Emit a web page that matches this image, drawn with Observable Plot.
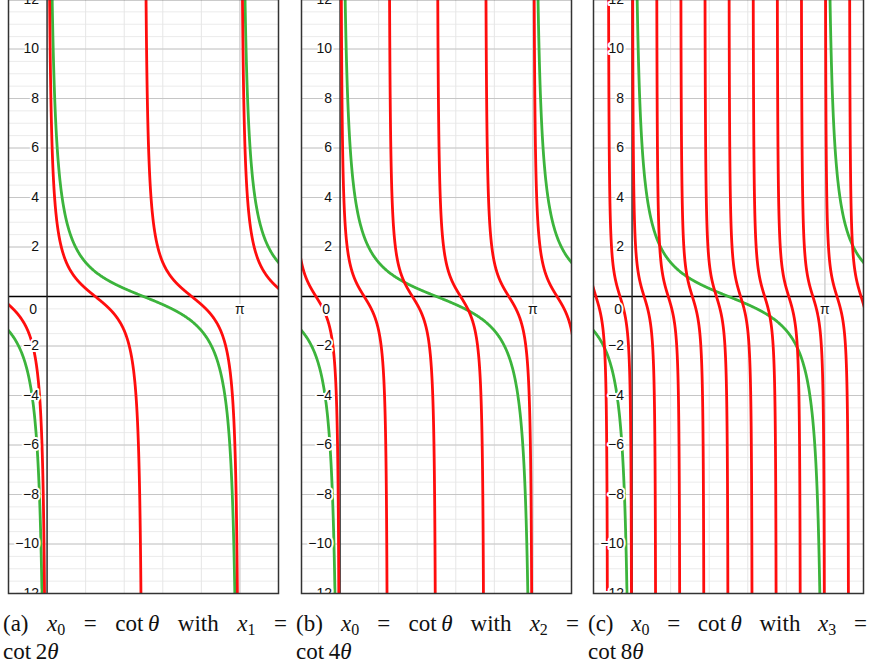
<!DOCTYPE html>
<html>
<head>
<meta charset="utf-8">
<script src="https://cdn.jsdelivr.net/npm/d3@7"></script>
<script src="https://cdn.jsdelivr.net/npm/@observablehq/plot@0.6"></script>
<style>
  html, body { margin: 0; padding: 0; background: #fff; }
  #page { position: relative; width: 871px; height: 668px; overflow: hidden; }
  .panel { position: absolute; top: -3px; }
  .caption {
    position: absolute; top: 610px;
    font-family: "Liberation Serif", "DejaVu Serif", serif;
    font-size: 23px; line-height: 28px; color: #111;
  }
  .caption .l1 { white-space: nowrap; display: flex; justify-content: space-between; }
  .caption i { font-style: italic; }
  .caption sub { font-size: 16px; vertical-align: -4px; line-height: 0; }
</style>
</head>
<body>
<div id="page"></div>
<script>
// Panel definitions: each compares x0 = cot θ with cot(nθ)
const panelTags = ["a", "b", "c"];
const multipliers = [2, 4, 8];
const seriesIndex = [1, 2, 3];
const panelLeft = [6, 299, 591];
const captionLeft = [3, 296, 588];
const captionWidth = [284, 283, 279];

// Axis extents and ticks
const thetaDomain = [-Math.PI / 5, 6 * Math.PI / 5];
const valueDomain = [-12, 12];
const majorY = [-12, -10, -8, -6, -4, -2, 2, 4, 6, 8, 10, 12];
const minorY = d3.range(-12, 12.01, 0.5);
const minorX = d3.range(-1, 7).map(k => k * Math.PI / 5);
const majorX = [Math.PI];
const yLabels = [-12, -10, -8, -6, -4, -2, 2, 4, 6, 8, 10, 12];
const originLabel = ["0"];
const piLabel = ["π"];

const green = "#3cb43c";
const red = "#ff0d0d";
const labelFont = "Liberation Sans, Arial, sans-serif";

// Sample cot(kθ) branch by branch, breaking at every pole mπ/k
function cotBranches(k, key) {
  const rows = [];
  const [a, b] = thetaDomain;
  const delta = Math.atan(1 / 80) / k;
  const mStart = Math.floor(a * k / Math.PI) - 1;
  const mEnd = Math.ceil(b * k / Math.PI) + 1;
  for (let m = mStart; m <= mEnd; m++) {
    const lo = m * Math.PI / k + delta;
    const hi = (m + 1) * Math.PI / k - delta;
    if (hi < a - 0.05 || lo > b + 0.05) continue;
    const n = 600;
    for (let i = 0; i <= n; i++) {
      const t = lo + (hi - lo) * i / n;
      const u = k * t;
      rows.push({theta: t, value: Math.cos(u) / Math.sin(u), seg: key + ":" + m});
    }
  }
  return rows;
}

const labelStyle = {
  fontSize: 14, fontFamily: labelFont,
  fill: "#111", stroke: "#fff", strokeWidth: 4, paintOrder: "stroke", clip: true
};

const page = document.getElementById("page");

multipliers.forEach((n, idx) => {
  const base = cotBranches(1, "g");
  const multi = cotBranches(n, "r");

  const chart = Plot.plot({
    width: 274,
    height: 598,
    marginTop: 2, marginBottom: 2, marginLeft: 2, marginRight: 2,
    x: {domain: thetaDomain, axis: null},
    y: {domain: valueDomain, axis: null},
    marks: [
      Plot.ruleY(minorY, {stroke: "#ebebeb", strokeWidth: 1}),
      Plot.ruleX(minorX, {stroke: "#e6e6e6", strokeWidth: 1}),
      Plot.ruleY(majorY, {stroke: "#c6c6c6", strokeWidth: 1}),
      Plot.ruleX(majorX, {stroke: "#c6c6c6", strokeWidth: 1}),
      Plot.ruleY([0], {stroke: "#000", strokeWidth: 1.4}),
      Plot.ruleX([0], {stroke: "#222", strokeWidth: 1.4}),
      Plot.line(base, {x: "theta", y: "value", z: "seg", stroke: green, strokeWidth: 2.8, clip: true}),
      Plot.line(multi, {x: "theta", y: "value", z: "seg", stroke: red, strokeWidth: 2.8, clip: true}),
      Plot.text(yLabels, {
        x: 0, y: d => d, text: d => d < 0 ? "−" + Math.abs(d) : String(d),
        textAnchor: "end", dx: -8, ...labelStyle
      }),
      Plot.text(originLabel, {x: 0, y: 0, text: d => d, textAnchor: "end", dx: -10, dy: 13, ...labelStyle}),
      Plot.text(piLabel, {x: Math.PI, y: 0, text: d => d, textAnchor: "middle", dy: 13, ...labelStyle}),
      Plot.frame({stroke: "#333", strokeWidth: 1.5})
    ]
  });
  chart.classList.add("panel");
  chart.style.left = panelLeft[idx] + "px";
  chart.style.overflow = "hidden";
  page.appendChild(chart);

  const cap = document.createElement("div");
  cap.className = "caption";
  cap.style.left = captionLeft[idx] + "px";
  cap.style.width = captionWidth[idx] + "px";
  cap.innerHTML =
    `<div class="l1"><span>(${panelTags[idx]})</span><span><i>x</i><sub>0</sub></span><span>=</span>` +
    `<span>cot&#8201;<i>θ</i></span><span>with</span><span><i>x</i><sub>${seriesIndex[idx]}</sub></span><span>=</span></div>` +
    `<div>cot&#8201;${n}<i>θ</i></div>`;
  page.appendChild(cap);
});
</script>
</body>
</html>
